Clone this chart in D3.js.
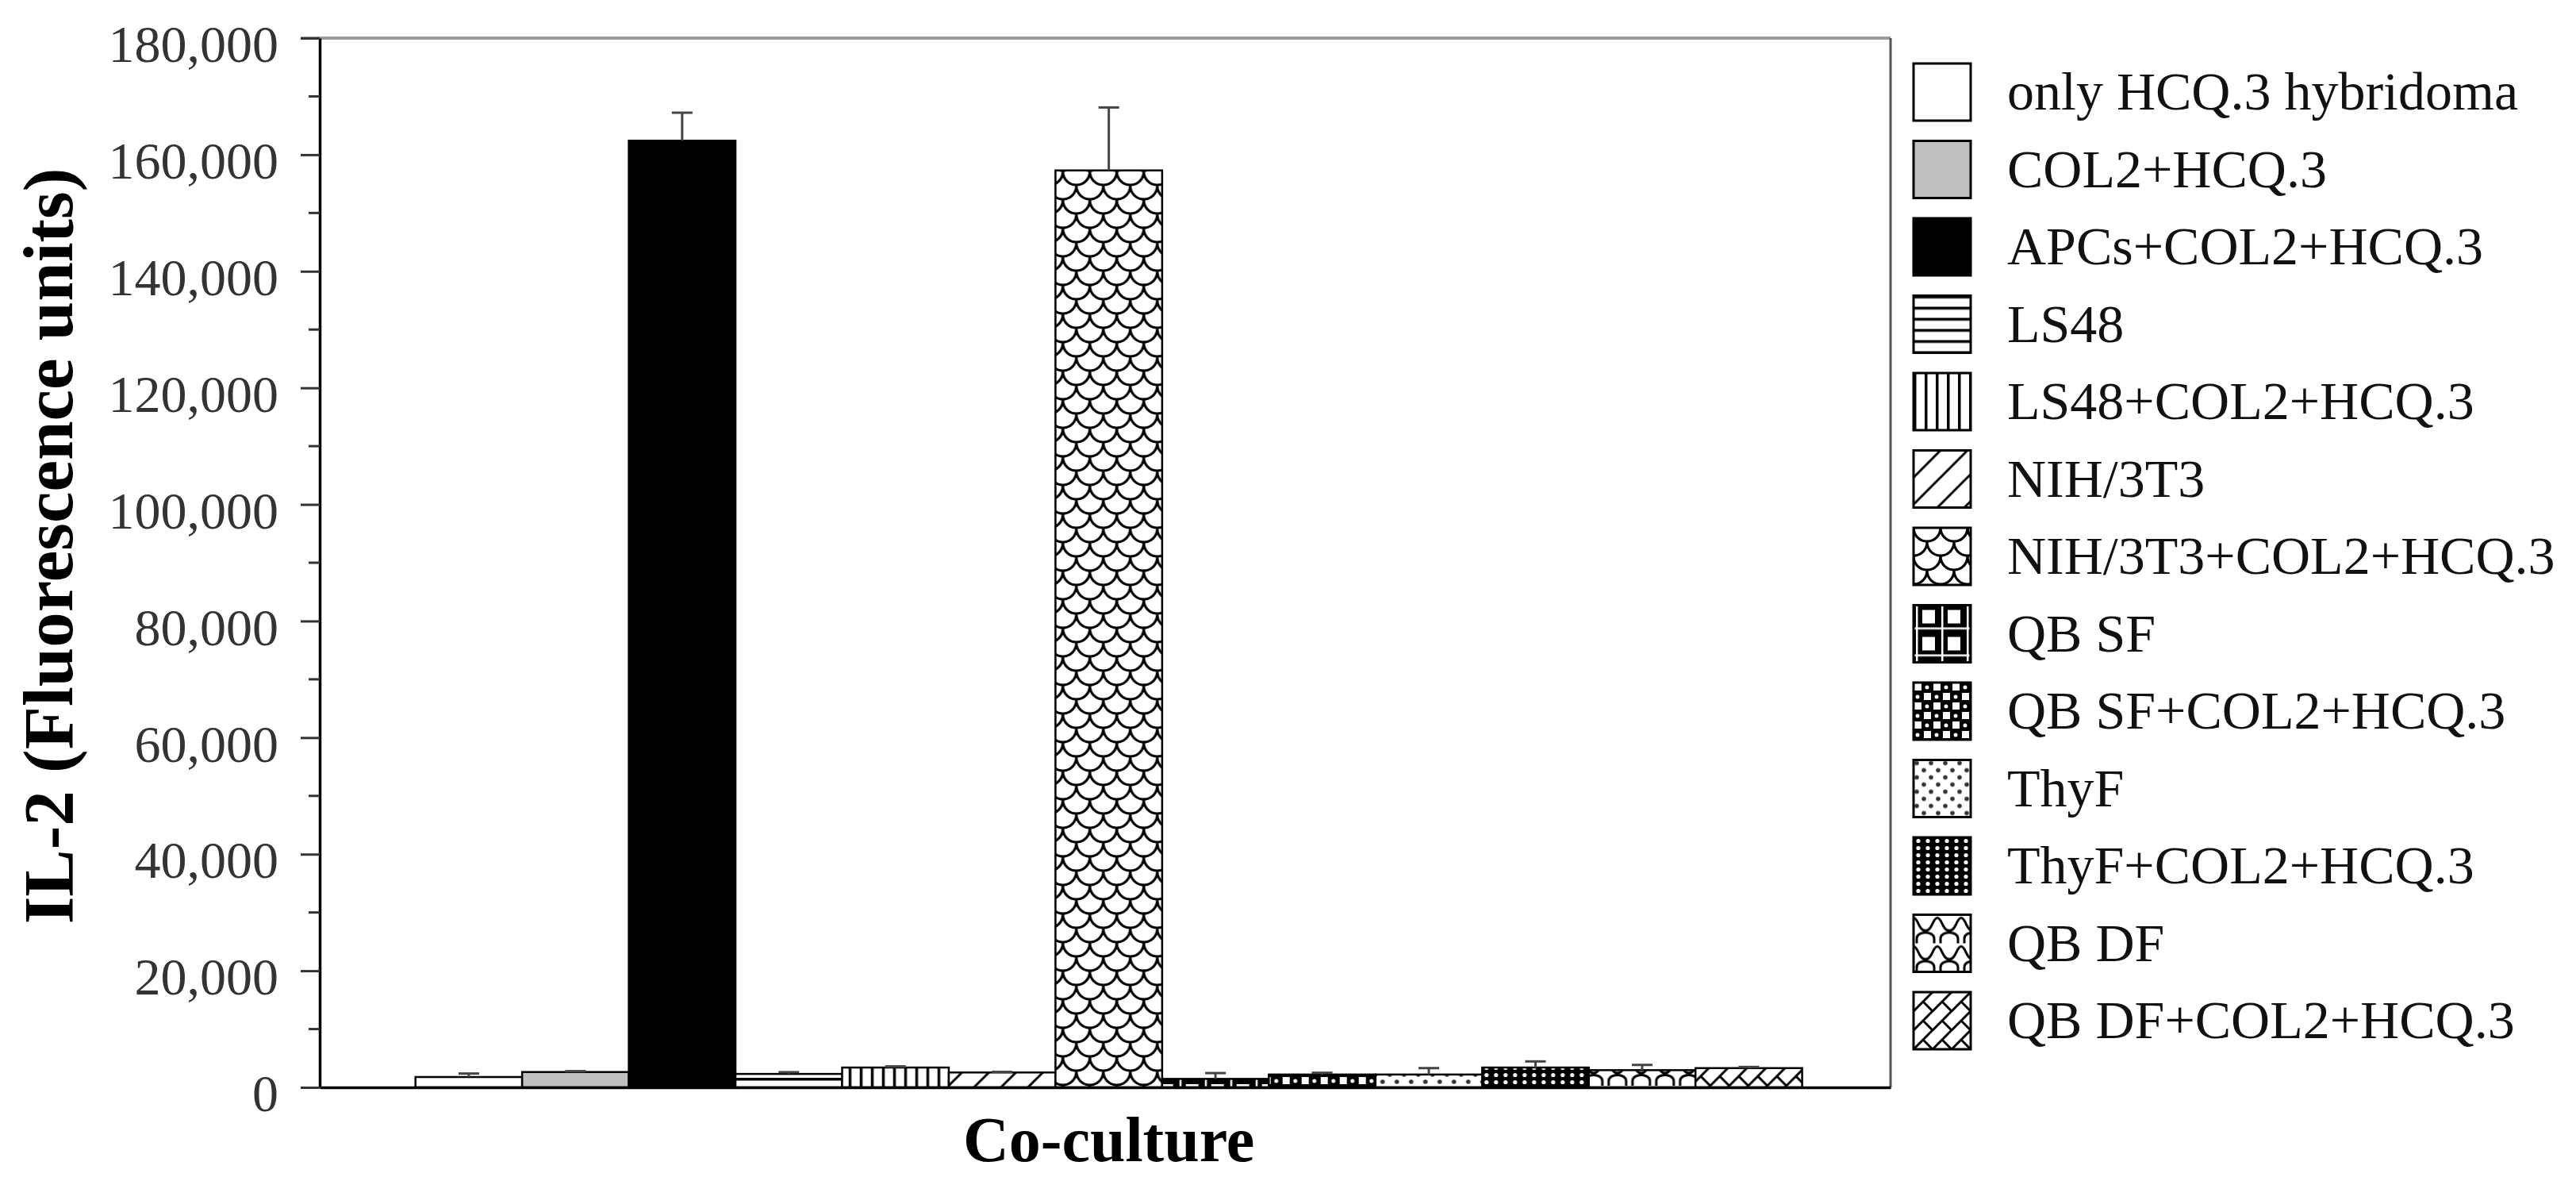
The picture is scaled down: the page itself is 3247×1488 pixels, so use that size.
<!DOCTYPE html>
<html><head><meta charset="utf-8">
<script src="https://cdnjs.cloudflare.com/ajax/libs/d3/7.8.5/d3.min.js"></script>
<style>html,body{margin:0;padding:0;background:#fff;} svg{display:block;}</style>
</head><body>
<script>
// ---------- DATA ----------
const categories = ["Co-culture"];
const seriesNames = [
  "only HCQ.3 hybridoma",
  "COL2+HCQ.3",
  "APCs+COL2+HCQ.3",
  "LS48",
  "LS48+COL2+HCQ.3",
  "NIH/3T3",
  "NIH/3T3+COL2+HCQ.3",
  "QB SF",
  "QB SF+COL2+HCQ.3",
  "ThyF",
  "ThyF+COL2+HCQ.3",
  "QB DF",
  "QB DF+COL2+HCQ.3"
];
const seriesValues = [1770, 2630, 162400, 2300, 3400, 2550, 157300, 1450, 2200, 2200, 3400, 2950, 3300];
const seriesErrors = [600, 150, 4800, 300, 200, 100, 10800, 1000, 300, 1100, 1050, 900, 200];
const yTicks = [0, 20000, 40000, 60000, 80000, 100000, 120000, 140000, 160000, 180000];
const yMinorTicks = [10000, 30000, 50000, 70000, 90000, 110000, 130000, 150000, 170000];
const yTitle = "IL-2 (Fluorescence units)";

// ---------- LAYOUT ----------
const W = 3247, H = 1488;
const plot = {left: 403, right: 2383, top: 48, bottom: 1370};
const serif = '"Liberation Serif","Times New Roman",serif';

const svg = d3.select("body").append("svg").attr("width", W).attr("height", H);

// ---------- PATTERNS ----------
const defs = svg.append("defs");
function pat(id, w, h, bg) {
  const p = defs.append("pattern").attr("id", id)
    .attr("patternUnits", "userSpaceOnUse").attr("width", w).attr("height", h);
  p.append("rect").attr("width", w).attr("height", h).attr("fill", bg);
  return p;
}
let p;
// 3 horizontal lines
p = pat("p3", 14, 14, "#fff");
p.append("rect").attr("x", 0).attr("y", 0).attr("width", 14).attr("height", 3.5).attr("fill", "#000");
// 4 vertical lines
p = pat("p4", 14, 14, "#fff");
p.append("rect").attr("x", 0).attr("y", 0).attr("width", 3.5).attr("height", 14).attr("fill", "#000");
// 5 wide diagonal
p = pat("p5", 34, 34, "#fff");
p.append("path").attr("d", "M-8.5,8.5 L8.5,-8.5 M0,34 L34,0 M25.5,42.5 L42.5,25.5")
  .attr("stroke", "#000").attr("stroke-width", 3).attr("fill", "none");
// 6 scales (rows of cups, offset by half)
p = pat("p6", 34, 36, "#fff");
p.append("path").attr("d",
  "M0,0 A17,17 0 0 0 34,0 " +
  "M-17,18 A17,17 0 0 0 17,18 M17,18 A17,17 0 0 0 51,18 " +
  "M0,36 A17,17 0 0 0 34,36 " +
  "M-17,-18 A17,17 0 0 0 17,-18 M17,-18 A17,17 0 0 0 51,-18")
  .attr("stroke", "#000").attr("stroke-width", 3.2).attr("fill", "none");
// 7 QB SF grid
p = pat("p7", 32, 34, "#000");
p.append("rect").attr("x", 11).attr("y", 6).attr("width", 16).attr("height", 17).attr("fill", "#fff");
p.append("rect").attr("x", 3).attr("y", 0).attr("width", 2.5).attr("height", 34).attr("fill", "#fff");
p.append("rect").attr("x", 0).attr("y", 28).attr("width", 32).attr("height", 2.5).attr("fill", "#fff");
// 8 spheres / checker
p = pat("p8", 24, 24, "#000");
p.append("rect").attr("x", 1).attr("y", 1).attr("width", 9).attr("height", 9).attr("fill", "#fff");
p.append("rect").attr("x", 13).attr("y", 13).attr("width", 9).attr("height", 9).attr("fill", "#fff");
p.append("circle").attr("cx", 17).attr("cy", 6).attr("r", 2.5).attr("fill", "#fff");
p.append("circle").attr("cx", 5).attr("cy", 18).attr("r", 2.5).attr("fill", "#fff");
// 9 sparse dots
p = pat("p9", 18, 18, "#fff");
p.append("circle").attr("cx", 4).attr("cy", 4).attr("r", 2.8).attr("fill", "#333");
p.append("circle").attr("cx", 13).attr("cy", 13).attr("r", 2.8).attr("fill", "#333");
// 10 dense dots
p = pat("p10", 12, 9, "#000");
p.append("circle").attr("cx", 6).attr("cy", 4.5).attr("r", 2.6).attr("fill", "#fff");
// 11 waves
p = pat("p11", 30, 36, "#fff");
p.append("path").attr("d", "M0,4 C6,4 6,20 15,20 C24,20 24,4 30,4 M4,36 V30 C4,20 26,20 26,30 V36")
  .attr("stroke", "#000").attr("stroke-width", 3).attr("fill", "none");
// 12 weave
p = pat("p12", 24, 24, "#fff");
p.append("path").attr("d", "M-6,6 L6,-6 M0,24 L24,0 M18,30 L30,18 M12,12 L24,24")
  .attr("stroke", "#000").attr("stroke-width", 3).attr("fill", "none");

const fills = ["#fff", "#c0c0c0", "#000", "url(#p3)", "url(#p4)", "url(#p5)", "url(#p6)",
  "url(#p7)", "url(#p8)", "url(#p9)", "url(#p10)", "url(#p11)", "url(#p12)"];

// ---------- SCALES ----------
const y = d3.scaleLinear().domain([0, 180000]).range([plot.bottom, plot.top]);
const x0 = d3.scaleBand().domain(categories).range([plot.left, plot.right])
  .paddingInner(0).paddingOuter(0.0664).align(0.52);
const x1 = d3.scaleBand().domain(d3.range(seriesNames.length)).range([0, x0.bandwidth()]);

// ---------- FRAME ----------
svg.append("line").attr("x1", plot.left - 24).attr("x2", plot.right).attr("y1", plot.top).attr("y2", plot.top)
  .attr("stroke", "#9a9a9a").attr("stroke-width", 4);
svg.append("line").attr("x1", plot.right).attr("x2", plot.right).attr("y1", plot.top).attr("y2", plot.bottom)
  .attr("stroke", "#555").attr("stroke-width", 3);

// ---------- BARS ----------
const data = seriesNames.map((n, i) => ({name: n, i, v: seriesValues[i], e: seriesErrors[i]}));
const g = svg.append("g").selectAll("g").data(categories).join("g")
  .attr("transform", d => `translate(${x0(d)},0)`);

g.selectAll("rect").data(data).join("rect")
  .attr("x", d => x1(d.i)).attr("width", x1.bandwidth())
  .attr("y", d => y(d.v)).attr("height", d => y(0) - y(d.v))
  .attr("fill", d => fills[d.i]).attr("stroke", "#000").attr("stroke-width", 2.5);

// error bars
const eb = g.selectAll("g.err").data(data).join("g").attr("class", "err");
eb.append("line")
  .attr("x1", d => x1(d.i) + x1.bandwidth() / 2).attr("x2", d => x1(d.i) + x1.bandwidth() / 2)
  .attr("y1", d => y(d.v)).attr("y2", d => y(d.v + d.e))
  .attr("stroke", "#444").attr("stroke-width", 3);
eb.append("line")
  .attr("x1", d => x1(d.i) + x1.bandwidth() / 2 - 13).attr("x2", d => x1(d.i) + x1.bandwidth() / 2 + 13)
  .attr("y1", d => y(d.v + d.e)).attr("y2", d => y(d.v + d.e))
  .attr("stroke", "#444").attr("stroke-width", 3);

// ---------- AXES ----------
const yAxis = svg.append("g").attr("transform", `translate(${plot.left},0)`)
  .call(d3.axisLeft(y).tickValues(yTicks).tickSize(24).tickSizeOuter(0).tickPadding(28)
    .tickFormat(d3.format(",")));
yAxis.select(".domain").attr("stroke", "#000").attr("stroke-width", 3.5);
yAxis.selectAll(".tick line").attr("stroke", "#333").attr("stroke-width", 3);
yAxis.selectAll(".tick text").attr("font-family", serif).attr("font-size", 66)
  .attr("fill", "#333").attr("dy", "0.45em");
yAxis.selectAll(".minor").data(yMinorTicks).join("line").attr("class", "minor")
  .attr("x1", -14).attr("x2", 0).attr("y1", d => y(d)).attr("y2", d => y(d))
  .attr("stroke", "#333").attr("stroke-width", 3);

const xAxis = svg.append("g").attr("transform", `translate(0,${plot.bottom})`)
  .call(d3.axisBottom(x0).tickSize(0).tickSizeOuter(0).tickPadding(36));
xAxis.select(".domain").attr("stroke", "#000").attr("stroke-width", 3.5);
xAxis.selectAll(".tick text").attr("font-family", serif).attr("font-size", 80)
  .attr("font-weight", "bold").attr("fill", "#000");

// y title
svg.append("text").attr("transform", `translate(91,688) rotate(-90)`)
  .attr("text-anchor", "middle").attr("font-family", serif).attr("font-size", 89)
  .attr("font-weight", "bold").attr("fill", "#000").text(yTitle);

// ---------- LEGEND ----------
const legend = svg.append("g").selectAll("g").data(data).join("g")
  .attr("transform", d => `translate(2412,${80 + d.i * 97.5})`);
legend.append("rect").attr("width", 72).attr("height", 72)
  .attr("fill", d => fills[d.i]).attr("stroke", "#000").attr("stroke-width", 3);
legend.append("text").attr("x", 118).attr("y", 36 + 22)
  .attr("font-family", serif).attr("font-size", 68).attr("fill", "#111").text(d => d.name);
</script>
</body></html>
